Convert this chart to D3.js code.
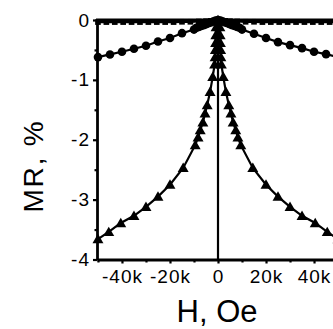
<!DOCTYPE html>
<html>
<head>
<meta charset="utf-8">
<script src="https://cdn.jsdelivr.net/npm/d3@7"></script>
<style>
  html, body { margin: 0; padding: 0; background: #fff; }
  svg { display: block; }
  text { font-family: "Liberation Sans", Arial, sans-serif; }
</style>
</head>
<body>
<div id="chart"></div>
<script>
// field in Oe, MR in %
const squareH  = [-50000, -46500, -43000, -39500, -36000, -32500, -29000, -25500, -22000, -18500, -15000, -11500, -8000, -5000, -3000, -1500, 0, 1500, 3000, 5000, 8000, 11500, 15000, 18500, 22000, 25500, 29000, 32500, 36000, 39500, 43000, 46500, 50000];
const squareMR = [-0.035, -0.035, -0.035, -0.035, -0.035, -0.035, -0.035, -0.035, -0.035, -0.035, -0.03, -0.03, -0.025, -0.02, -0.015, -0.01, 0, -0.01, -0.015, -0.02, -0.025, -0.03, -0.03, -0.035, -0.035, -0.035, -0.035, -0.035, -0.035, -0.035, -0.035, -0.035, -0.035];

const circleH  = [-50000, -45000, -40000, -35000, -30000, -25000, -20000, -15000, -10000, -9000, -8000, -7000, -6000, -5000, -4000, -3000, -2000, -1000, 0, 1000, 2000, 3000, 4000, 5000, 6000, 7000, 8000, 9000, 10000, 15000, 20000, 25000, 30000, 35000, 40000, 45000, 50000];
const circleMR = [-0.62, -0.575, -0.53, -0.48, -0.43, -0.36, -0.3, -0.22, -0.16, -0.13, -0.115, -0.1, -0.085, -0.07, -0.055, -0.04, -0.025, -0.01, 0, -0.01, -0.025, -0.04, -0.055, -0.07, -0.085, -0.1, -0.115, -0.13, -0.16, -0.23, -0.3, -0.37, -0.42, -0.47, -0.53, -0.57, -0.62];

const triH  = [-50000, -45500, -40500, -35000, -30000, -25000, -20000, -14500, -9500, -8300, -7400, -6300, -5400, -4500, -3300, -2200, -1400, -1200, -1100, -1000, -900, -800, 0, 800, 900, 1000, 1100, 1200, 1400, 2200, 3300, 4500, 5400, 6300, 7400, 8300, 9500, 14500, 20000, 25000, 30000, 35000, 40500, 45500, 50000];
const triMR = [-3.66, -3.54, -3.39, -3.27, -3.12, -2.95, -2.75, -2.47, -2.09, -1.96, -1.84, -1.71, -1.56, -1.42, -1.2, -0.95, -0.74, -0.62, -0.5, -0.38, -0.25, -0.12, 0, -0.12, -0.25, -0.38, -0.5, -0.62, -0.74, -0.95, -1.2, -1.42, -1.56, -1.71, -1.84, -1.96, -2.09, -2.47, -2.75, -2.95, -3.12, -3.27, -3.39, -3.54, -3.66];

const xTicks = [-40000, -20000, 0, 20000, 40000];
const xMinor = [-50000, -30000, -10000, 10000, 30000, 50000];
const yTicks = [0, -1, -2, -3, -4];
const yMinor = [-0.5, -1.5, -2.5, -3.5];

const W = 333, H = 329;
const svg = d3.select('#chart').append('svg').attr('width', W).attr('height', H);

const x = d3.scaleLinear().domain([-50400, 50400]).range([97, 339]);
const y = d3.scaleLinear().domain([0, -4]).range([20, 259.5]);

const zip = (hs, ms) => hs.map((h, i) => ({h, m: ms[i]}));
const line = d3.line().x(d => x(d.h)).y(d => y(d.m));

const plot = svg.append('g');

// vertical line at H = 0
plot.append('line').attr('x1', x(0)).attr('x2', x(0)).attr('y1', y(0)).attr('y2', y(-4))
  .attr('stroke', '#000').attr('stroke-width', 2.2);

[[squareH, squareMR, 'square'], [circleH, circleMR, 'circle'], [triH, triMR, 'triangle']].forEach(([hs, ms, kind]) => {
  const pts = zip(hs, ms);
  plot.append('path').datum(pts).attr('d', line).attr('fill', 'none').attr('stroke', '#000').attr('stroke-width', 2.2);
  if (kind === 'circle') {
    plot.append('g').selectAll('circle').data(pts).join('circle')
      .attr('cx', d => x(d.h)).attr('cy', d => y(d.m)).attr('r', 4.3).attr('fill', '#000');
  } else {
    const sym = d3.symbol().type(kind === 'square' ? d3.symbolSquare : d3.symbolTriangle).size(kind === 'square' ? 32 : 52);
    plot.append('g').selectAll('path').data(pts).join('path')
      .attr('transform', d => `translate(${x(d.h)},${y(d.m) + (kind === 'triangle' ? 1 : 0)})`)
      .attr('d', sym).attr('fill', '#000');
  }
});

// top frame
svg.append('line').attr('x1', 96).attr('x2', W).attr('y1', y(0)).attr('y2', y(0))
  .attr('stroke', '#000').attr('stroke-width', 2.8);

const styleAxis = g => {
  g.select('.domain').attr('stroke-width', 2.8);
  g.selectAll('.tick line').attr('stroke-width', 2.2);
  g.selectAll('.tick text').attr('fill', '#000').style('font-size', '19px').style('letter-spacing', '1px')
    .style('font-family', '"Liberation Sans", Arial, sans-serif');
};

// minor ticks
svg.append('g').attr('transform', `translate(${x.range()[0]},0)`)
  .call(d3.axisLeft(y).tickValues(yMinor).tickSize(2.5).tickFormat(''))
  .call(g => g.select('.domain').remove())
  .call(g => g.selectAll('.tick line').attr('stroke-width', 2.2));
svg.append('g').attr('transform', `translate(0,${y(-4)})`)
  .call(d3.axisBottom(x).tickValues(xMinor.filter(v => x(v) < W)).tickSize(3).tickFormat(''))
  .call(g => g.select('.domain').remove())
  .call(g => g.selectAll('.tick line').attr('stroke-width', 2.2));

svg.append('g').attr('transform', `translate(${x.range()[0]},0)`)
  .call(d3.axisLeft(y).tickValues(yTicks).tickSize(4).tickPadding(3).tickSizeOuter(0).tickFormat(d => String(d)))
  .call(styleAxis);

svg.append('g').attr('transform', `translate(0,${y(-4)})`)
  .call(d3.axisBottom(x).tickValues(xTicks).tickSize(4).tickPadding(6).tickSizeOuter(0)
    .tickFormat(d => d === 0 ? '0' : (d / 1000) + 'k'))
  .call(styleAxis);

svg.append('text').attr('x', 217).attr('y', 322).attr('text-anchor', 'middle')
  .style('font-size', '31px').text('H, Oe');

svg.append('text').attr('transform', 'translate(43,166) rotate(-90)').attr('text-anchor', 'middle')
  .style('font-size', '28px').style('letter-spacing', '1.8px').text('MR, %');
</script>
</body>
</html>
